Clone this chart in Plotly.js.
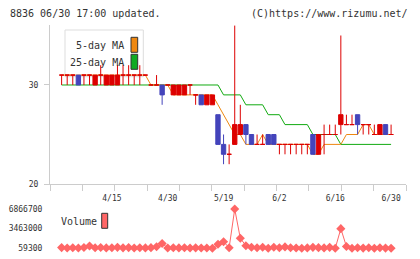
<!DOCTYPE html>
<html><head><meta charset="utf-8">
<script src="https://cdn.plot.ly/plotly-3.0.1.min.js"></script>
<style>html,body{margin:0;padding:0;background:#fff}#chart{width:420px;height:259px}</style>
</head><body><div id="chart"></div>
<script>
const dates = ['4/2','4/3','4/4','4/7','4/8','4/9','4/10','4/11','4/14','4/15','4/16','4/17','4/18','4/21','4/22','4/23','4/24','4/25','4/28','4/30',
  '5/1','5/7','5/8','5/9','5/12','5/13','5/14','5/15','5/16','5/19','5/20','5/21','5/22','5/23','5/26','5/27','5/28','5/29','5/30',
  '6/2','6/3','6/4','6/5','6/6','6/9','6/10','6/11','6/12','6/13','6/16','6/17','6/18','6/19','6/20','6/23','6/24','6/25','6/26','6/27','6/30'];
const openPrices  = [31,31,31,31,31,31,30,31,30,30,30,31,31,31,31,31,30,30,30,30, 29,29,29,30,29,29,28,28,27,24, 23,24,25,26,25,24,24,25,25, 24,24,24,24,24,24,25,23,25,25,25, 26,26,26,27,26,26,25,25,26,25];
const highPrices  = [31,31,31,31,31,31,31,32,31,31,32,32,32,31,32,31,30,31,30,30, 30,30,30,30,29,29,29,29,27,25, 24,36,28,26,25,25,25,25,25, 24,24,24,24,24,24,25,25,26,26,26, 35,27,27,27,26,26,26,26,26,26];
const lowPrices   = [30,30,30,30,30,30,30,30,30,30,30,30,30,30,30,31,30,30,28,30, 29,29,29,29,28,28,28,28,24,22, 22,24,25,24,24,24,24,24,24, 23,23,23,23,23,23,23,23,23,25,25, 25,26,26,25,25,25,25,25,25,25];
const closePrices = [31,31,31,30,31,31,31,31,31,31,31,31,31,31,31,31,30,30,29,30, 30,30,30,30,29,28,29,29,24,23, 23,26,26,25,24,24,24,24,24, 24,24,24,24,24,24,23,25,25,25,25, 27,26,26,26,26,26,25,26,25,25];
const ma5  = [31,31,31,31,31,31,31,31,31,31,31,31,31,31,31,31,30,30,30,30, 29,29,29,29,29,29,29,29,28,27, 26,25,25,24,24,24,25,24,24, 24,24,24,24,24,24,23,23,24,24,24, 24,25,25,25,26,26,25,25,25,25];
const ma25 = [30,30,30,30,30,30,30,30,30,30,30,30,30,30,30,30,30,30,30,30, 30,30,30,30,30,30,30,30,30,29, 29,29,29,28,28,28,28,27,27, 27,26,26,26,26,26,25,25,25,25,25, 24,24,24,24,24,24,24,24,24,24];
const volume = [180000,120000,150000,100000,200000,450000,150000,200000,130000,160000,220000,140000,180000,110000,150000,130000,170000,320000,900000,120000,
  150000,130000,160000,110000,140000,120000,100000,80000,750000,1200000,
  160000,6866700,1790000,510000,250000,160000,230000,80000,240000,
  150000,300000,150000,120000,70000,130000,220000,170000,130000,220000,59300,
  3463000,380000,80000,160000,90000,150000,80000,160000,90000,70000];
const dateTickLabels = ['4/15','4/30','5/19','6/2','6/16','6/30'];
const volumeTicks = [59300, 3463000, 6866700];
const priceTicks = [20, 30];

const RED = '#dd0000', BLUE = '#4444bb', ORANGE = '#ee8811', GREEN = '#11aa11', VOL = '#ff6666';
const W = 420, H = 259, ML = 50, MR = 14, PW = W - ML - MR;
const px = p => (p - ML) / PW;
const py = p => (H - p) / H;

const idx = dates.map((d, i) => i);
const xLo = -2.08, xHi = 61.67;
const priceRange = [20, 36.1];

function candles(ids, color) {
  return {
    type: 'candlestick', x: ids,
    open: ids.map(i => openPrices[i]), high: ids.map(i => highPrices[i]),
    low: ids.map(i => lowPrices[i]), close: ids.map(i => closePrices[i]),
    increasing: {line: {color: color, width: 1}, fillcolor: color},
    decreasing: {line: {color: color, width: 1}, fillcolor: color},
    whiskerwidth: 0, hoverinfo: 'skip', showlegend: false, xaxis: 'x', yaxis: 'y3'
  };
}
const upIds = idx.filter(i => closePrices[i] >= openPrices[i]);
const dnIds = idx.filter(i => closePrices[i] < openPrices[i]);

const data = [
  {type: 'scatter', mode: 'lines', x: idx, y: ma25, line: {color: GREEN, width: 1}, hoverinfo: 'skip', showlegend: false, xaxis: 'x', yaxis: 'y'},
  {type: 'scatter', mode: 'lines', x: idx, y: ma5, line: {color: ORANGE, width: 1}, hoverinfo: 'skip', showlegend: false, xaxis: 'x', yaxis: 'y'},
  candles(upIds, RED),
  candles(dnIds, BLUE),
  {type: 'scatter', mode: 'lines+markers', x: idx, y: volume, line: {color: VOL, width: 1},
   marker: {symbol: 'diamond', size: 7, color: VOL}, cliponaxis: false, hoverinfo: 'skip', showlegend: false, xaxis: 'x2', yaxis: 'y2'}
];

const nDiv = 11;
const divTicks = Array.from({length: nDiv + 1}, (_, k) => xLo + k * (xHi - xLo) / nDiv);
const tickFont = {family: 'DejaVu Sans Mono', size: 8, color: '#333'};
const gray = '#cccccc';

const layout = {
  width: W, height: H,
  margin: {l: ML, r: MR, t: 0, b: 0},
  paper_bgcolor: '#fff', plot_bgcolor: 'rgba(0,0,0,0)',
  font: {family: 'DejaVu Sans Mono', size: 10, color: '#333'},
  showlegend: false,
  boxgap: 0.22, boxgroupgap: 0,
  xaxis: {
    type: 'linear', range: [xLo, xHi], anchor: 'y', domain: [0, 1],
    tickmode: 'array', tickvals: divTicks, ticks: 'outside', ticklen: 6, tickcolor: gray, tickwidth: 1,
    showticklabels: false, showline: true, linecolor: gray, linewidth: 1,
    showgrid: false, zeroline: false, rangeslider: {visible: false}, fixedrange: true
  },
  xaxis2: {
    type: 'linear', range: [xLo, xHi], anchor: 'y2', side: 'top', domain: [0, 1],
    tickmode: 'array', tickvals: dateTickLabels.map(l => dates.indexOf(l)), ticktext: dateTickLabels,
    ticks: 'outside', ticklen: 4, tickcolor: 'rgba(0,0,0,0)', tickfont: tickFont,
    showline: false, showgrid: false, zeroline: false, fixedrange: true
  },
  yaxis: {
    range: priceRange, domain: [py(184), py(24.6)], anchor: 'x',
    tickmode: 'array', tickvals: priceTicks, ticktext: priceTicks.map(String),
    ticks: 'outside', ticklen: 5, tickcolor: gray, tickfont: tickFont, ticklabelstandoff: 4,
    showline: true, linecolor: gray, linewidth: 1, showgrid: false, zeroline: false, fixedrange: true
  },
  yaxis3: {range: priceRange, overlaying: 'y', anchor: 'x', visible: false, fixedrange: true},
  yaxis2: {
    range: [volumeTicks[0], volumeTicks[2]], domain: [py(248.3), py(209)], anchor: 'x2',
    tickmode: 'array', tickvals: volumeTicks, ticktext: volumeTicks.map(String),
    ticks: 'outside', ticklen: 5, tickcolor: 'rgba(0,0,0,0)', tickfont: tickFont,
    showline: false, showgrid: false, zeroline: false, fixedrange: true
  },
  shapes: [
    {type: 'rect', xref: 'paper', yref: 'paper', x0: px(65), x1: px(143.3), y0: py(76.7), y1: py(30), line: {color: '#dddddd', width: 1}, fillcolor: 'rgba(0,0,0,0)', layer: 'below'},
    {type: 'rect', xref: 'paper', yref: 'paper', x0: px(131), x1: px(137.7), y0: py(52.3), y1: py(37.3), line: {color: '#333', width: 1}, fillcolor: ORANGE},
    {type: 'rect', xref: 'paper', yref: 'paper', x0: px(131), x1: px(137.7), y0: py(69.3), y1: py(54.3), line: {color: '#333', width: 1}, fillcolor: '#11aa22'},
    {type: 'rect', xref: 'paper', yref: 'paper', x0: px(101.7), x1: px(107.7), y0: py(228.3), y1: py(213.3), line: {color: '#333', width: 1}, fillcolor: VOL}
  ],
  annotations: [
    {text: '8836 06/30 17:00 updated.', xref: 'paper', yref: 'paper', x: px(8), y: py(13), xanchor: 'left', yanchor: 'middle', showarrow: false, font: {size: 10, color: '#333'}},
    {text: '(C)https://www.rizumu.net/', xref: 'paper', yref: 'paper', x: px(410), y: py(13), xanchor: 'right', yanchor: 'middle', showarrow: false, font: {size: 10, color: '#333'}},
    {text: '5-day MA', xref: 'paper', yref: 'paper', x: px(125.5), y: py(45.5), xanchor: 'right', yanchor: 'middle', showarrow: false, font: {size: 10, color: '#333'}},
    {text: '25-day MA', xref: 'paper', yref: 'paper', x: px(125.5), y: py(63), xanchor: 'right', yanchor: 'middle', showarrow: false, font: {size: 10, color: '#333'}},
    {text: 'Volume', xref: 'paper', yref: 'paper', x: px(58.5), y: py(221.5), xanchor: 'left', yanchor: 'middle', showarrow: false, font: {size: 10, color: '#333'}}
  ]
};

Plotly.newPlot('chart', data, layout, {staticPlot: true, displayModeBar: false});
</script>
</body></html>
